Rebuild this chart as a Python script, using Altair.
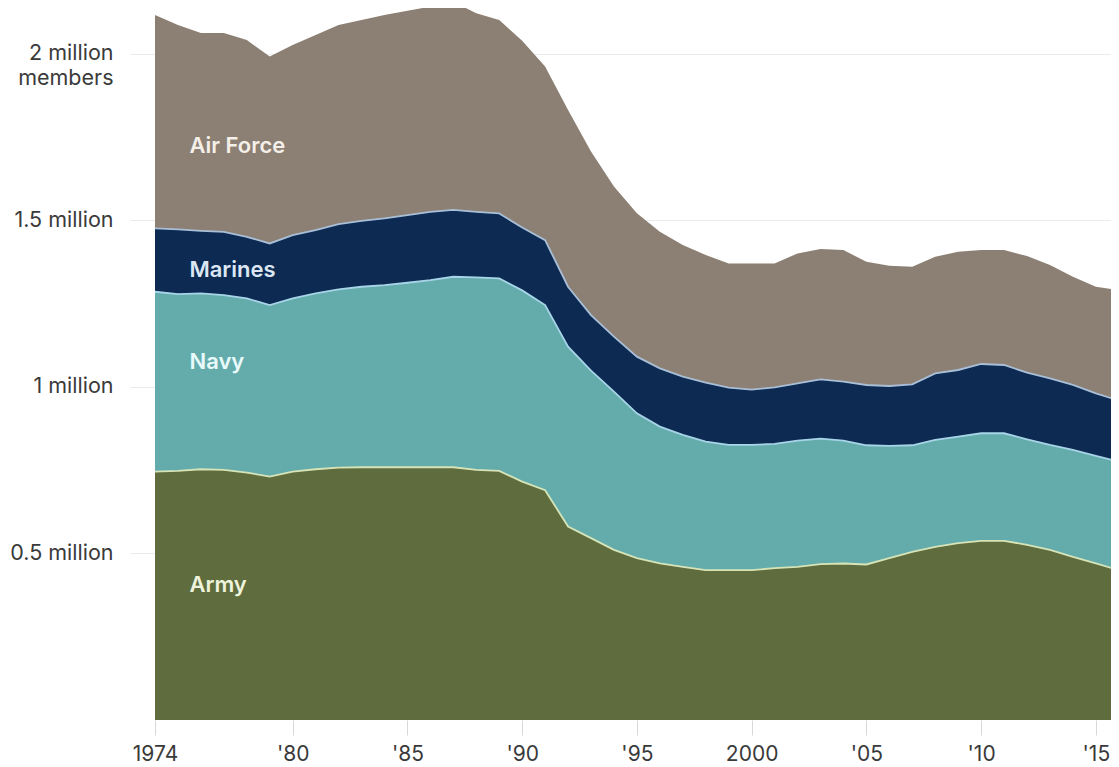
import json
import altair as alt
import pandas as pd

# ---- data (thousands of active-duty members) ----
years = list(range(1974, 2017))
army = [746, 748, 753, 751, 743, 731, 746, 753, 758, 759,
        759, 759, 759, 759, 751, 748, 716, 690, 581, 546,
        511, 486, 470, 460, 450, 450, 450, 456, 460, 468,
        470, 467, 486, 505, 520, 531, 538, 538, 526, 511,
        490, 470, 450]
navy = [540, 531, 528, 525, 523, 515, 520, 528, 535, 542,
        547, 554, 562, 572, 578, 578, 574, 556, 540, 503,
        475, 435, 411, 396, 386, 376, 376, 373, 379, 377,
        369, 358, 337, 320, 321, 320, 323, 323, 317, 315,
        321, 323, 326]
marines = [190, 194, 188, 190, 185, 185, 190, 190, 196, 198,
           200, 203, 205, 201, 197, 195, 189, 195, 180, 167,
           165, 170, 175, 175, 177, 172, 166, 170, 172, 178,
           177, 181, 180, 183, 200, 200, 208, 205, 200, 200,
           195, 188, 183]
air_force = [641, 614, 594, 597, 591, 561, 571, 586, 598, 603,
             611, 614, 616, 625, 596, 581, 561, 521, 531, 491,
             451, 431, 410, 395, 383, 373, 379, 372, 390, 391,
             395, 370, 361, 353, 350, 355, 342, 345, 350, 340,
             325, 320, 332]

branches = ["Army", "Navy", "Marines", "Air Force"]
series = [army, navy, marines, air_force]

# in-chart labels (anchor year, value in members)
label_names = ["Air Force", "Marines", "Navy", "Army"]
label_years = [1975.5, 1975.5, 1975.5, 1975.5]
label_values = [1725000, 1351000, 1075000, 405000]

# axis ticks
x_tick_values = [1974, 1980, 1985, 1990, 1995, 2000, 2005, 2010, 2015]
x_tick_labels = ["1974", "'80", "'85", "'90", "'95", "2000", "'05", "'10", "'15"]
y_tick_values = [500000, 1000000, 1500000, 2000000]
y_tick_labels = [["0.5 million"], ["1 million"], ["1.5 million"], ["2 million", "members"]]

# ---- styles ----
area_colors = ["#5e6c3e", "#64acab", "#0c2a52", "#8c7f73"]
line_colors = ["#d6e4b8", "#a8d4e8", "#a9bfd8", "#8c7f73"]
label_colors = ["#f4efe8", "#dce7f4", "#e8fafa", "#eef4dc"]
FONT = "Inter"

rows = []
for b_i, (b, vals) in enumerate(zip(branches, series)):
    for y, v in zip(years, vals):
        rows.append({"year": y, "branch": b, "order": b_i, "value": v * 1000})
df = pd.DataFrame(rows)

labels_df = pd.DataFrame({"name": label_names, "year": label_years, "value": label_values})


def label_expr(values, labels):
    expr = "''"
    for v, lab in reversed(list(zip(values, labels))):
        if isinstance(lab, list):
            lab_s = json.dumps(lab) if len(lab) > 1 else json.dumps(lab[0])
        else:
            lab_s = json.dumps(lab)
        expr = f"datum.value == {v} ? {lab_s} : ({expr})"
    return expr


# the reference is cut at its right edge a little before the 2016 point
x_scale = alt.Scale(domain=[1974, 2015.66], nice=False, zero=False)
y_scale = alt.Scale(domain=[0, 2138000], nice=False)

x_axis = alt.Axis(
    values=x_tick_values,
    labelExpr=label_expr(x_tick_values, x_tick_labels),
    title=None, grid=False, domain=False,
    tickColor="#d9d9d9", tickSize=15, tickWidth=1,
    labelFont=FONT, labelFontSize=21, labelColor="#3a3a3a",
    labelPadding=8, labelFlush=False, labelOverlap=False,
)
y_axis = alt.Axis(
    values=y_tick_values,
    labelExpr=label_expr(y_tick_values, y_tick_labels),
    title=None, grid=True, gridColor="#ebebeb", gridWidth=1, domain=False,
    tickColor="#ebebeb", tickSize=25, tickWidth=1,
    labelFont=FONT, labelFontSize=21.5, labelColor="#3a3a3a",
    labelPadding=17, labelLineHeight=25, labelOverlap=False,
)

base = alt.Chart(df).transform_stack(
    stack="value", groupby=["year"], as_=["y0", "y1"],
    sort=[alt.SortField("order", order="ascending")],
)

areas = base.mark_area(clip=True).encode(
    x=alt.X("year:Q", scale=x_scale, axis=x_axis),
    y=alt.Y("y1:Q", scale=y_scale, axis=y_axis),
    y2="y0:Q",
    color=alt.Color("branch:N", scale=alt.Scale(domain=branches, range=area_colors), legend=None),
    order=alt.Order("order:Q"),
)

lines = base.transform_filter("datum.branch != 'Air Force'").mark_line(
    clip=True, strokeWidth=1.8
).encode(
    x=alt.X("year:Q", scale=x_scale),
    y=alt.Y("y1:Q", scale=y_scale),
    detail="branch:N",
    color=alt.Color("branch:N", scale=alt.Scale(domain=branches, range=line_colors), legend=None),
)

texts = alt.Chart(labels_df).mark_text(
    align="left", baseline="middle", font=FONT, fontSize=22, fontWeight=600
).encode(
    x=alt.X("year:Q", scale=x_scale),
    y=alt.Y("value:Q", scale=y_scale),
    text="name:N",
    color=alt.Color("name:N", scale=alt.Scale(domain=label_names, range=label_colors), legend=None),
)

chart = alt.layer(areas, lines, texts).resolve_scale(color="independent").properties(
    width=956, height=712,
    autosize=alt.AutoSizeParams(type="none"),
    padding={"left": 147, "top": 0, "right": 0, "bottom": 44},
    background="white",
).configure_view(stroke=None)

chart.save("out.html", embed_options={"renderer": "svg", "actions": False})
